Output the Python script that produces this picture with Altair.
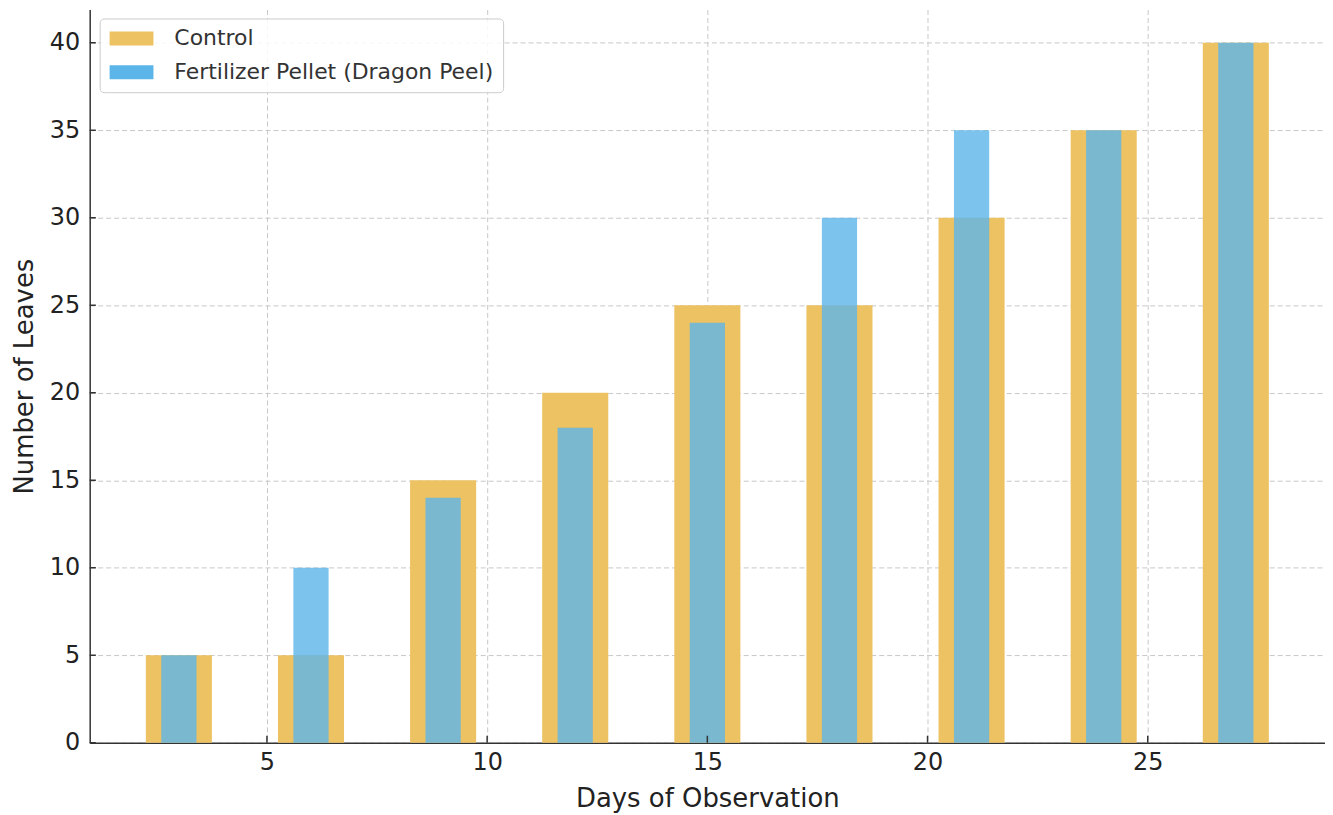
import altair as alt
import pandas as pd

days = [3, 6, 9, 12, 15, 18, 21, 24, 27]
control = [5, 5, 15, 20, 25, 25, 30, 35, 40]
fertilizer = [5, 10, 14, 18, 24, 30, 35, 35, 40]
series = ["Control", "Fertilizer Pellet (Dragon Peel)"]
colors = ["#EDC263", "#5BB5E8"]
x_ticks = [5, 10, 15, 20, 25]
y_ticks = [0, 5, 10, 15, 20, 25, 30, 35, 40]

FONT = "DejaVu Sans"
X_MIN, X_MAX = 0.975, 29.025
Y_MIN, Y_MAX = 0, 41.9

df_c = pd.DataFrame({"day": days, "leaves": control, "series": series[0]})
df_f = pd.DataFrame({"day": days, "leaves": fertilizer, "series": series[1]})
df_xt = pd.DataFrame({"t": x_ticks})
df_yt = pd.DataFrame({"t": y_ticks})

x_scale = alt.Scale(domain=[X_MIN, X_MAX], nice=False, zero=False)
y_scale = alt.Scale(domain=[Y_MIN, Y_MAX], nice=False)

color = alt.Color(
    "series:N",
    scale=alt.Scale(domain=series, range=colors),
    legend=alt.Legend(
        title=None,
        orient="none",
        legendX=10,
        legendY=9,
        padding=9,
        cornerRadius=4,
        strokeColor="#cccccc",
        fillColor="rgba(255,255,255,0.85)",
        symbolType="M-2.2,-0.7H2.2V0.7H-2.2Z",
        symbolSize=400,
        symbolOffset=12,
        symbolStrokeWidth=0,
        symbolOpacity=1,
        labelOffset=32,
        labelFontSize=22,
        labelFont=FONT,
        labelColor="#333333",
        labelLimit=0,
        rowPadding=12,
    ),
)

common = dict(
    titleFontSize=26,
    titleFont=FONT,
    titleFontWeight="normal",
    titleColor="#222222",
    labelFontSize=24,
    labelFont=FONT,
    labelColor="#222222",
    grid=True,
    gridDash=[5, 3],
    gridColor="#c8c8c8",
    gridWidth=1,
    domainColor="#333333",
    domainWidth=1.5,
    ticks=False,
)

x_axis = alt.Axis(values=x_ticks, title="Days of Observation", titlePadding=11, labelPadding=8, **common)
y_axis = alt.Axis(values=y_ticks, title="Number of Leaves", titlePadding=12, labelPadding=10, **common)

ctrl = (
    alt.Chart(df_c)
    .transform_calculate(x0="datum.day - 0.75", x1="datum.day + 0.75", base="0")
    .mark_rect(opacity=1)
    .encode(
        x=alt.X("x0:Q", scale=x_scale, axis=x_axis),
        x2="x1:Q",
        y=alt.Y("leaves:Q", scale=y_scale, axis=y_axis),
        y2="base:Q",
        color=color,
    )
)

fert = (
    alt.Chart(df_f)
    .transform_calculate(x0="datum.day - 0.4", x1="datum.day + 0.4", base="0")
    .mark_rect(opacity=0.8)
    .encode(
        x=alt.X("x0:Q", scale=x_scale),
        x2="x1:Q",
        y=alt.Y("leaves:Q", scale=y_scale),
        y2="base:Q",
        color=color,
    )
)

# inward tick marks (matplotlib style), placed through the scales
x_tick_marks = (
    alt.Chart(df_xt)
    .mark_rule(color="#333333", strokeWidth=1.5)
    .encode(
        x=alt.X("t:Q", scale=x_scale),
        y=alt.datum(Y_MIN, scale=y_scale),
        y2=alt.datum(Y_MIN + 0.4),
    )
)
y_tick_marks = (
    alt.Chart(df_yt)
    .mark_rule(color="#333333", strokeWidth=1.5)
    .encode(
        y=alt.Y("t:Q", scale=y_scale),
        x=alt.datum(X_MIN, scale=x_scale),
        x2=alt.datum(X_MIN + 0.14),
    )
)

chart = (
    alt.layer(ctrl, fert, x_tick_marks, y_tick_marks)
    .properties(
        width=1240,
        height=736,
        autosize=alt.AutoSizeParams(type="none"),
        padding={"left": 82, "top": 0, "right": 0, "bottom": 70},
    )
    .configure_view(stroke=None)
)

chart.save("out.html", embed_options={"renderer": "svg", "actions": False})
